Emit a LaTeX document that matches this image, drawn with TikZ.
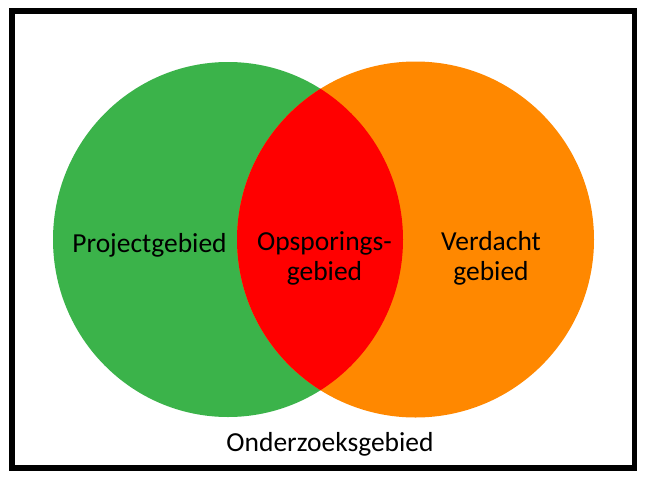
\documentclass[tikz,border=0pt]{standalone}
\usepackage{fontspec}
\setmainfont{Carlito}
\definecolor{vgreen}{RGB}{59,179,74}
\definecolor{vorange}{RGB}{255,136,0}
\definecolor{vred}{RGB}{255,0,0}
\tikzset{
  lbl/.style={font=\fontsize{27.5}{30}\selectfont, text=black, inner sep=0pt, align=center, anchor=base},
}
\begin{document}
\begin{tikzpicture}[x=1pt,y=-1pt]
\useasboundingbox (0,0) rectangle (645,477);
\fill[white] (0,0) rectangle (645,477);
% areas
\fill[vgreen] (228,239.5) ellipse [x radius=175, y radius=177.5];
\fill[vorange] (415.5,239.5) ellipse [x radius=178.5, y radius=178];
\begin{scope}
  \clip (228,239.5) ellipse [x radius=175, y radius=177.5];
  \fill[vred] (415.5,239.5) ellipse [x radius=178.5, y radius=178];
\end{scope}
% frame
\draw[line width=5.5pt] (12,11) rectangle (634.7,468);
% labels
\node[lbl] (proj) at (149.5,252) {Projectgebied};
\node[lbl] (opsp) at (324.5,280) {Opsporings-\\gebied};
\node[lbl] (verd) at (491,280) {Verdacht\\gebied};
\node[lbl] (onder) at (330,451.5) {Onderzoeksgebied};
\end{tikzpicture}
\end{document}
